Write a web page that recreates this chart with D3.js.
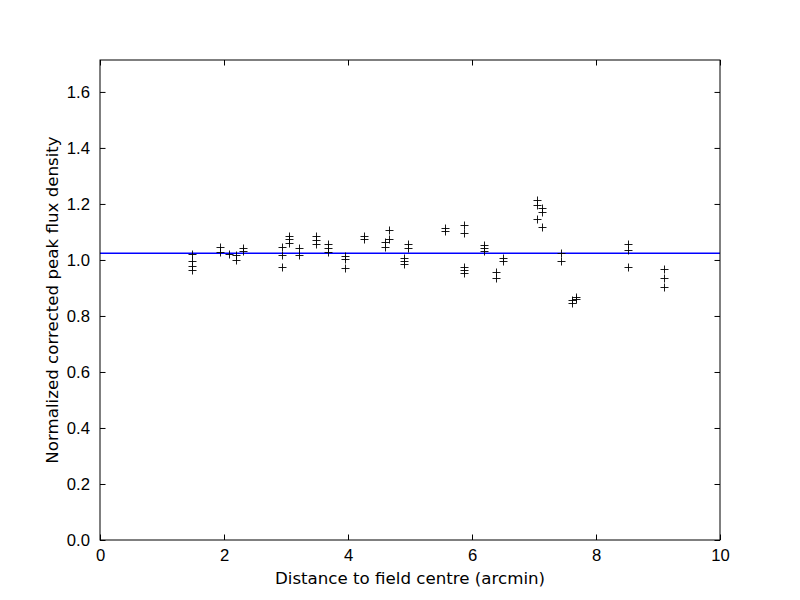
<!DOCTYPE html>
<html>
<head>
<meta charset="utf-8">
<script src="https://cdn.jsdelivr.net/npm/d3@7"></script>
<style>
  body { margin: 0; background: #fff; }
  svg { font-family: "DejaVu Sans", sans-serif; }
</style>
</head>
<body>
<div id="chart"></div>
<script>
// distance to field centre (arcmin), one entry per source
var distance = [
    1.48, 1.48, 1.48, 1.48,
    1.94, 1.94, 2.08, 2.20, 2.20, 2.31, 2.31,
    2.93, 2.93, 2.93, 3.05, 3.05, 3.05, 3.21, 3.21,
    3.48, 3.48, 3.48, 3.67, 3.67, 3.67, 3.95, 3.95, 3.95,
    4.25, 4.25, 4.59, 4.59, 4.66, 4.66,
    4.91, 4.91, 4.91, 4.97, 4.97, 5.56, 5.56,
    5.87, 5.87, 5.87, 5.87, 5.87,
    6.19, 6.19, 6.19, 6.38, 6.38, 6.50, 6.50,
    7.05, 7.05, 7.05, 7.13, 7.13, 7.13, 7.44, 7.44,
    7.62, 7.62, 7.68, 7.68,
    8.51, 8.51, 8.51, 9.10, 9.10, 9.10
];
// normalized corrected peak flux density
var fluxRatio = [
    1.020, 0.995, 0.980, 0.965,
    1.045, 1.030, 1.020, 1.016, 1.000, 1.044, 1.032,
    1.046, 1.018, 0.974, 1.086, 1.074, 1.060, 1.042, 1.018,
    1.086, 1.071, 1.057, 1.056, 1.044, 1.030, 1.014, 1.002, 0.973,
    1.087, 1.075, 1.063, 1.048, 1.107, 1.075,
    1.006, 0.996, 0.986, 1.056, 1.044, 1.113, 1.105,
    1.125, 1.095, 0.974, 0.964, 0.955,
    1.054, 1.044, 1.032, 0.956, 0.935, 1.008, 0.998,
    1.214, 1.196, 1.145, 1.185, 1.173, 1.117, 1.025, 0.996,
    0.857, 0.845, 0.869, 0.861,
    1.057, 1.036, 0.974, 0.967, 0.935, 0.905
];
var meanRatio = 1.024;
var xTicks = [0, 2, 4, 6, 8, 10];
var yTicks = [0.0, 0.2, 0.4, 0.6, 0.8, 1.0, 1.2, 1.4, 1.6];
var xDomain = [0, 10];
var yDomain = [0, 1.714];

var width = 800, height = 600;
var margin = {top: 60, right: 80, bottom: 60, left: 100};
var w = width - margin.left - margin.right,
    h = height - margin.top - margin.bottom;

var svg = d3.select('#chart').append('svg')
    .attr('width', width)
    .attr('height', height);

var g = svg.append('g')
    .attr('transform', 'translate(' + margin.left + ',' + margin.top + ')');

var x = d3.scaleLinear().domain(xDomain).range([0, w]);
var y = d3.scaleLinear().domain(yDomain).range([h, 0]);

var tickLen = 5.5;
var fontSize = 16.67;

function styleAxis(sel, showLabels) {
    sel.select('.domain').remove();
    sel.selectAll('.tick line').attr('stroke', '#000').attr('stroke-width', 1);
    sel.selectAll('.tick text')
        .attr('fill', '#000')
        .style('font-size', fontSize + 'px');
    if (!showLabels) sel.selectAll('.tick text').remove();
}

// bottom / top ticks point inward
g.append('g')
    .attr('transform', 'translate(0,' + h + ')')
    .call(d3.axisBottom(x).tickValues(xTicks).tickFormat(d3.format('d'))
        .tickSizeInner(-tickLen).tickSizeOuter(0).tickPadding(9))
    .call(styleAxis, true);
g.append('g')
    .call(d3.axisTop(x).tickValues(xTicks)
        .tickSizeInner(-tickLen).tickSizeOuter(0))
    .call(styleAxis, false);

g.append('g')
    .call(d3.axisLeft(y).tickValues(yTicks).tickFormat(d3.format('.1f'))
        .tickSizeInner(-tickLen).tickSizeOuter(0).tickPadding(10))
    .call(styleAxis, true);
g.append('g')
    .attr('transform', 'translate(' + w + ',0)')
    .call(d3.axisRight(y).tickValues(yTicks)
        .tickSizeInner(-tickLen).tickSizeOuter(0))
    .call(styleAxis, false);

// mean line
g.append('line')
    .attr('x1', x(xDomain[0]))
    .attr('x2', x(xDomain[1]))
    .attr('y1', y(meanRatio))
    .attr('y2', y(meanRatio))
    .attr('stroke', '#0000ff')
    .attr('stroke-width', 1.3);

// plus markers
var m = 4;
g.append('g').selectAll('path')
    .data(d3.range(distance.length))
    .enter().append('path')
    .attr('d', function(i) {
        var px = Math.round(x(distance[i])) + 0.5,
            py = Math.round(y(fluxRatio[i])) + 0.5;
        return 'M' + (px - m) + ',' + py + 'H' + (px + m) +
               'M' + px + ',' + (py - m) + 'V' + (py + m);
    })
    .attr('stroke', '#000')
    .attr('stroke-width', 0.9)
    .attr('fill', 'none');

// frame
g.append('rect')
    .attr('width', w)
    .attr('height', h)
    .attr('fill', 'none')
    .attr('stroke', '#000')
    .attr('stroke-width', 1);

svg.append('text')
    .attr('x', margin.left + w / 2)
    .attr('y', 584)
    .attr('text-anchor', 'middle')
    .style('font-size', fontSize + 'px')
    .text('Distance to field centre (arcmin)');

svg.append('text')
    .attr('transform', 'translate(58,' + (margin.top + h / 2) + ') rotate(-90)')
    .attr('text-anchor', 'middle')
    .style('font-size', fontSize + 'px')
    .text('Normalized corrected peak flux density');
</script>
</body>
</html>
